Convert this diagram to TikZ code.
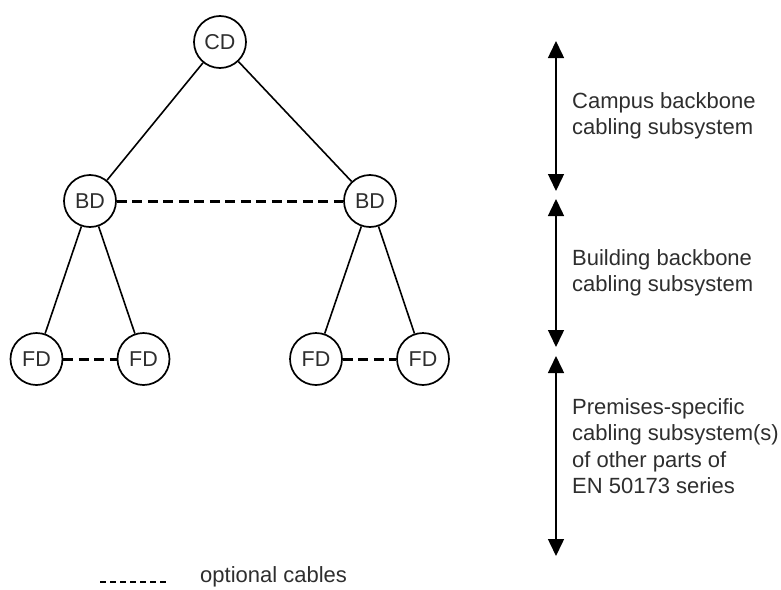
\documentclass[tikz,border=0pt]{standalone}
\usepackage{fontspec}
\setmainfont{Liberation Sans}
\usetikzlibrary{arrows.meta}
\begin{document}
\begin{tikzpicture}[x=1pt,y=-1pt,
  dist/.style={circle,draw=black,line width=1.7pt,minimum size=52pt,inner sep=0pt,
    text=black!82,font=\fontsize{21.5}{25}\selectfont},
  tree/.style={line width=1.6pt},
  opt/.style={line width=3pt,dash pattern=on 10pt off 5.5pt},
  span/.style={line width=1.5pt,{Triangle[width=16pt,length=17pt]}-{Triangle[width=16pt,length=17pt]}},
  lbl/.style={anchor=west,align=left,inner sep=0pt,text=black!82,font=\fontsize{22}{26.5}\selectfont}]
\useasboundingbox (0,0) rectangle (781,589);
\node[dist] (CD) at (220,42) {CD};
\node[dist] (BDL) at (90,201) {BD};
\node[dist] (BDR) at (370,201) {BD};
\node[dist] (FD1) at (36.5,359) {FD};
\node[dist] (FD2) at (143.5,359) {FD};
\node[dist] (FD3) at (316,359) {FD};
\node[dist] (FD4) at (423,359) {FD};
\draw[tree] (CD) -- (BDL);
\draw[tree] (CD) -- (BDR);
\draw[tree] (BDL) -- (FD1);
\draw[tree] (BDL) -- (FD2);
\draw[tree] (BDR) -- (FD3);
\draw[tree] (BDR) -- (FD4);
\draw[opt] (BDL) -- (BDR);
\draw[opt] (FD1) -- (FD2);
\draw[opt] (FD3) -- (FD4);
\coordinate (a1) at (556,41);
\coordinate (a2) at (556,191);
\coordinate (a3) at (556,199);
\coordinate (a4) at (556,347);
\coordinate (a5) at (556,356);
\coordinate (a6) at (556,556);
\draw[span] (a1) -- (a2);
\draw[span] (a3) -- (a4);
\draw[span] (a5) -- (a6);
\node[lbl] (t1) at (572,116) {Campus backbone\\cabling subsystem};
\node[lbl] (t2) at (572,273) {Building backbone\\cabling subsystem};
\node[lbl] (t3) at (572,446) {Premises-specific\\cabling subsystem(s)\\of other parts of\\EN 50173 series};
\coordinate (l1) at (100,582);
\coordinate (l2) at (166,582);
\draw[line width=1.2pt,dash pattern=on 6pt off 4pt] (l1) -- (l2);
\node[lbl] (lt) at (200,577) {optional cables};
\end{tikzpicture}
\end{document}
